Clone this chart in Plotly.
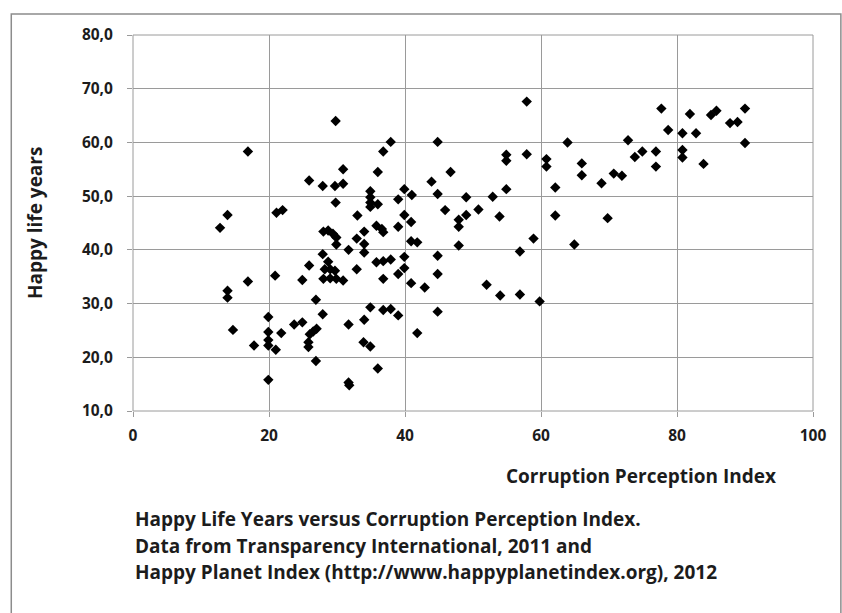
import plotly.graph_objects as go

# Corruption Perception Index (2011, scaled 0-100) per country
cpi = [
    12.8, 13.9, 13.9, 13.9, 14.7, 16.9, 16.9, 17.8, 19.9, 19.9,
    19.9, 19.9, 19.9, 21.0, 21.1, 22.0, 20.9, 21.8, 23.7, 24.9,
    24.9, 25.9, 25.9, 26.9, 27.9, 27.0, 26.5, 26.0, 25.8, 25.8,
    26.9, 27.9, 29.7, 30.9, 30.9, 29.8, 29.8, 28.0, 28.7, 29.4,
    29.9, 29.9, 31.7, 27.9, 28.7, 28.2, 29.0, 29.7, 28.0, 29.0,
    29.9, 30.9, 31.7, 31.7, 31.8, 33.0, 32.9, 32.9, 34.0, 34.0,
    34.0, 34.9, 34.9, 34.9, 34.9, 36.0, 36.0, 35.8, 36.6, 36.8,
    35.8, 36.8, 37.9, 36.8, 34.9, 36.8, 37.9, 34.0, 33.9, 34.9,
    36.0, 36.8, 37.9, 39.0, 39.0, 39.0, 39.0, 39.9, 41.0, 39.9,
    40.9, 40.9, 41.8, 39.9, 39.9, 40.9, 42.9, 41.8, 43.9, 44.8,
    44.8, 44.8, 44.8, 44.8, 45.9, 46.7, 47.9, 47.9, 47.9, 49.0,
    49.0, 50.8, 52.9, 53.9, 54.9, 54.9, 54.9, 52.0, 54.0, 56.9,
    56.9, 57.9, 57.9, 58.9, 59.8, 60.8, 60.8, 62.1, 62.1, 63.9,
    64.9, 66.0, 66.0, 68.9, 69.8, 70.7, 71.9, 72.8, 73.8, 74.9,
    76.9, 76.9, 77.7, 78.7, 80.8, 80.8, 80.8, 81.9, 82.8, 83.9,
    85.0, 85.8, 87.8, 88.9, 90.0, 90.0,
]

# Happy Life Years (Happy Planet Index 2012), same country order
hly = [
    44.1, 46.5, 32.4, 31.1, 25.1, 58.3, 34.1, 22.2, 27.5, 24.7,
    23.2, 22.2, 15.8, 21.4, 46.9, 47.4, 35.2, 24.5, 26.1, 26.5,
    34.4, 37.1, 52.9, 30.7, 28.0, 25.3, 24.8, 24.3, 22.8, 21.9,
    19.3, 51.9, 51.9, 52.3, 55.0, 64.0, 48.8, 43.4, 43.6, 43.0,
    42.3, 41.0, 40.0, 39.2, 37.8, 36.4, 36.4, 36.1, 34.6, 34.7,
    34.6, 34.3, 26.1, 15.3, 14.8, 46.4, 42.1, 36.4, 43.4, 41.1,
    39.5, 50.9, 49.8, 48.8, 48.0, 48.5, 54.5, 44.5, 43.9, 43.3,
    37.7, 37.9, 38.2, 34.6, 29.3, 28.8, 29.0, 27.0, 22.8, 22.0,
    17.9, 58.3, 60.1, 49.4, 44.3, 35.5, 27.8, 51.3, 50.2, 46.5,
    45.2, 41.6, 41.4, 38.7, 36.6, 33.8, 33.0, 24.5, 52.7, 60.1,
    50.4, 38.9, 35.5, 28.5, 47.4, 54.5, 45.6, 44.3, 40.8, 49.8,
    46.5, 47.5, 49.9, 46.2, 51.3, 56.6, 57.7, 33.5, 31.5, 39.7,
    31.7, 67.6, 57.8, 42.1, 30.4, 56.9, 55.5, 51.6, 46.4, 60.0,
    41.0, 56.1, 53.9, 52.4, 45.9, 54.2, 53.8, 60.4, 57.3, 58.3,
    58.3, 55.5, 66.3, 62.3, 61.7, 58.6, 57.2, 65.3, 61.7, 56.0,
    65.1, 65.9, 63.6, 63.8, 66.3, 59.9,
]

x_ticks = [0, 20, 40, 60, 80, 100]
y_ticks = [10, 20, 30, 40, 50, 60, 70, 80]

x_title = "Corruption Perception Index"
y_title = "Happy life years"
caption_lines = [
    "Happy Life Years versus Corruption Perception Index.",
    "Data from Transparency International, 2011 and",
    "Happy Planet Index (http://www.happyplanetindex.org), 2012",
]

FONT = "Open Sans"
TEXT = "#1c1c1c"
GRID = "#9a9a9a"

fig = go.Figure(
    go.Scatter(
        x=cpi,
        y=hly,
        mode="markers",
        marker=dict(symbol="diamond", size=8, color="black", line=dict(width=0)),
        hoverinfo="x+y",
    )
)

axis_common = dict(
    showgrid=True,
    gridcolor=GRID,
    gridwidth=1,
    showline=False,
    zeroline=False,
    ticks="outside",
    ticklen=5,
    tickcolor=GRID,
    tickwidth=1,
    tickfont=dict(family=FONT, size=15.5, color=TEXT, weight="bold"),
)

fig.update_xaxes(
    range=[0, 100],
    tickvals=x_ticks,
    ticktext=[str(v) for v in x_ticks],
    ticklabelstandoff=5,
    **axis_common,
)
fig.update_yaxes(
    range=[10, 80],
    tickvals=y_ticks,
    tickformat=".1f",
    ticklabelstandoff=11,
    **axis_common,
)

annotations = [
    dict(
        text=y_title, xref="paper", yref="paper", x=-0.144, y=0.5,
        textangle=-90, showarrow=False, xanchor="center", yanchor="middle",
        font=dict(family=FONT, size=19, color=TEXT, weight="bold"),
    ),
    dict(
        text=x_title, xref="paper", yref="paper", x=0.747, y=-0.173,
        showarrow=False, xanchor="center", yanchor="middle",
        font=dict(family=FONT, size=19, color=TEXT, weight="bold"),
    ),
]
for line, ypos in zip(caption_lines, [-0.287, -0.359, -0.428]):
    annotations.append(
        dict(
            text=line, xref="paper", yref="paper", x=0.0, y=ypos,
            showarrow=False, xanchor="left", yanchor="middle",
            font=dict(family=FONT, size=19, color=TEXT, weight="bold"),
        )
    )

fig.update_layout(
    width=842,
    height=613,
    margin=dict(l=133, r=29, t=35, b=202),
    paper_bgcolor="white",
    plot_bgcolor="white",
    separators=",.",
    showlegend=False,
    annotations=annotations,
    shapes=[
        # outer chart-area frame
        dict(
            type="rect", xref="paper", yref="paper",
            x0=-0.179, x1=1.041, y0=-0.56, y1=1.056,
            line=dict(color="#8c8c8c", width=1.5), fillcolor="rgba(0,0,0,0)",
            layer="below",
        ),
        # plot-area border on the top and right
        dict(
            type="rect", xref="paper", yref="paper",
            x0=0, x1=1, y0=0, y1=1,
            line=dict(color=GRID, width=1), fillcolor="rgba(0,0,0,0)",
            layer="below",
        ),
    ],
)

fig.write_html("out.html")
